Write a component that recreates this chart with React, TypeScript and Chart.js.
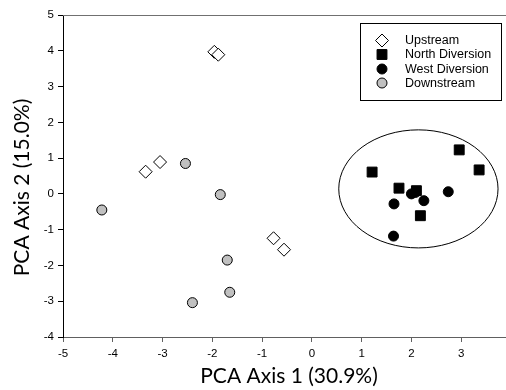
import React, { useEffect, useRef } from "react";
import { Chart, registerables } from "chart.js";

Chart.register(...registerables);

const upstreamX = [-1.96, -1.88, -3.34, -3.05, -0.77, -0.56];
const upstreamY = [3.97, 3.89, 0.62, 0.89, -1.24, -1.56];
const northX = [1.21, 2.96, 3.36, 1.75, 2.1, 2.18];
const northY = [0.61, 1.23, 0.67, 0.16, 0.09, -0.61];
const westX = [2.0, 2.08, 2.25, 1.65, 2.74, 1.64];
const westY = [0.0, 0.04, -0.19, -0.28, 0.06, -1.18];
const downX = [-4.22, -2.54, -1.84, -1.7, -1.65, -2.4];
const downY = [-0.45, 0.85, -0.02, -1.85, -2.75, -3.04];

const seriesNames = ["Upstream", "North Diversion", "West Diversion", "Downstream"];
const xTitle = "PCA Axis 1 (30.9%)";
const yTitle = "PCA Axis 2 (15.0%)";
const ellipseCenter = [2.14, 0.14];
const ellipseRadius = [1.6, 1.65];

const pts = (xs: number[], ys: number[]) => xs.map((x, i) => ({ x, y: ys[i] }));

const decorPlugin = {
  id: "decor",
  beforeDatasetsDraw(chart: any) {
    const { ctx, chartArea, scales } = chart;
    const xs = scales.x, ys = scales.y;
    ctx.save();
    ctx.strokeStyle = "#707070";
    ctx.lineWidth = 1;
    ctx.beginPath();
    ctx.moveTo(chartArea.left, chartArea.top + 0.5);
    ctx.lineTo(chartArea.right, chartArea.top + 0.5);
    ctx.stroke();
    const cx = xs.getPixelForValue(ellipseCenter[0]);
    const cy = ys.getPixelForValue(ellipseCenter[1]);
    const rx = Math.abs(xs.getPixelForValue(ellipseCenter[0] + ellipseRadius[0]) - cx);
    const ry = Math.abs(ys.getPixelForValue(ellipseCenter[1] + ellipseRadius[1]) - cy);
    ctx.strokeStyle = "#000";
    ctx.beginPath();
    ctx.ellipse(cx, cy, rx, ry, 0, 0, Math.PI * 2);
    ctx.stroke();
    ctx.restore();
  },
  afterDraw(chart: any) {
    const { ctx } = chart;
    const bx = 360, by = 23, bw = 141, bh = 77;
    ctx.save();
    ctx.fillStyle = "#fff";
    ctx.fillRect(bx, by, bw, bh);
    ctx.strokeStyle = "#000";
    ctx.lineWidth = 1;
    ctx.strokeRect(bx + 0.5, by + 0.5, bw, bh);
    const rows = [40.5, 54.5, 69, 83];
    chart.data.datasets.forEach((ds: any, i: number) => {
      const y = rows[i];
      const x = 382;
      ctx.fillStyle = ds.backgroundColor;
      ctx.strokeStyle = ds.borderColor;
      ctx.lineWidth = 1;
      ctx.beginPath();
      const r = ds.pointRadius;
      if (ds.pointStyle === "rectRot") {
        ctx.moveTo(x, y - r); ctx.lineTo(x + r, y); ctx.lineTo(x, y + r); ctx.lineTo(x - r, y); ctx.closePath();
      } else if (ds.pointStyle === "rect") {
        const s = r * Math.SQRT1_2;
        ctx.rect(x - s, y - s, 2 * s, 2 * s);
      } else {
        ctx.arc(x, y, r, 0, Math.PI * 2);
      }
      ctx.fill();
      ctx.stroke();
      ctx.fillStyle = "#000";
      ctx.font = "12.5px 'Liberation Sans', Arial, sans-serif";
      ctx.textBaseline = "middle";
      ctx.textAlign = "left";
      ctx.fillText(ds.label, 405, y + 0.5);
    });
    ctx.font = "21px Lato, 'Open Sans', sans-serif";
    ctx.fillStyle = "#000";
    ctx.textAlign = "center";
    ctx.textBaseline = "middle";
    ctx.fillText(xTitle, 289, 376);
    ctx.translate(22, 187.5);
    ctx.rotate(-Math.PI / 2);
    ctx.fillText(yTitle, 0, 0);
    ctx.restore();
  },
};

export default function App() {
  const ref = useRef<HTMLCanvasElement>(null);
  useEffect(() => {
    const tickFont = { family: "'Liberation Sans', Arial, sans-serif", size: 11.5 };
    const chart = new Chart(ref.current!, {
      type: "scatter",
      data: {
        datasets: [
          { label: seriesNames[0], data: pts(upstreamX, upstreamY), pointStyle: "rectRot", pointRadius: 6.5, backgroundColor: "#ffffff", borderColor: "#000000", borderWidth: 1 },
          { label: seriesNames[1], data: pts(northX, northY), pointStyle: "rect", pointRadius: 7, backgroundColor: "#000000", borderColor: "#000000", borderWidth: 1 },
          { label: seriesNames[2], data: pts(westX, westY), pointStyle: "circle", pointRadius: 5, backgroundColor: "#000000", borderColor: "#000000", borderWidth: 1 },
          { label: seriesNames[3], data: pts(downX, downY), pointStyle: "circle", pointRadius: 5, backgroundColor: "#c0c0c0", borderColor: "#000000", borderWidth: 1 },
        ] as any,
      },
      options: {
        animation: false,
        responsive: true,
        maintainAspectRatio: false,
        layout: { autoPadding: false, padding: { top: 15, right: 0, left: 0, bottom: 0 } },
        plugins: { legend: { display: false }, tooltip: { enabled: false } },
        scales: {
          x: {
            type: "linear",
            min: -5,
            max: 3.9,
            ticks: { stepSize: 1, color: "#000", font: tickFont, padding: 5, maxRotation: 0 },
            afterBuildTicks: (s: any) => { s.ticks = s.ticks.filter((t: any) => Number.isInteger(t.value)); },
            afterFit: (s: any) => { s.height = 53; },
            grid: { drawOnChartArea: false, drawTicks: true, tickLength: 5, color: "#606060" },
            border: { display: true, color: "#606060" },
          },
          y: {
            type: "linear",
            min: -4,
            max: 5,
            ticks: { stepSize: 1, color: "#000", font: tickFont, padding: 4 },
            afterFit: (s: any) => { s.width = 63; },
            grid: { drawOnChartArea: false, drawTicks: true, tickLength: 5, color: "#000" },
            border: { display: true, color: "#000" },
          },
        },
      },
      plugins: [decorPlugin],
    });
    return () => chart.destroy();
  }, []);
  return (
    <div style={{ position: "fixed", left: 0, top: 0, width: 506, height: 390, background: "#fff" }}>
      <canvas ref={ref} />
    </div>
  );
}
